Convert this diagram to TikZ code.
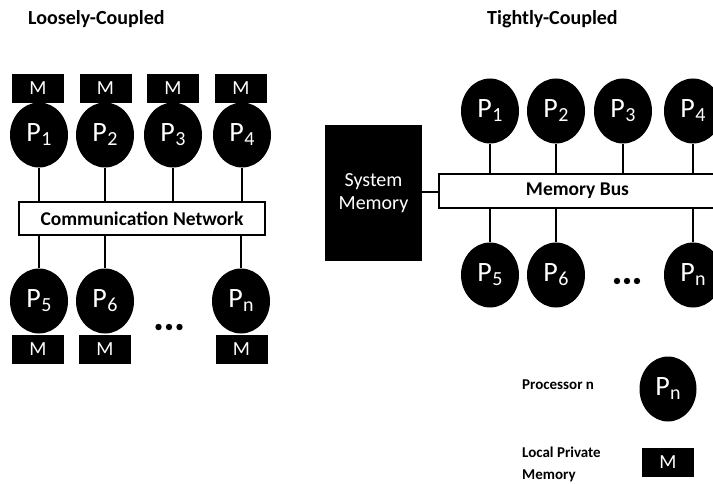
\documentclass[tikz,border=0pt]{standalone}
\usepackage{fontspec}
\setmainfont{Carlito}
\usetikzlibrary{shapes.geometric}
\newcommand{\plab}[1]{\fontsize{28}{28}\selectfont P\kern0.5pt\raisebox{-4pt}{\fontsize{20}{20}\selectfont #1}}
\begin{document}
\begin{tikzpicture}[x=1pt,y=-1pt,
  proc/.style={ellipse, fill=black, text=white, minimum width=58pt, minimum height=65pt, inner sep=0pt},
  mem/.style={rectangle, fill=black, text=white, minimum width=52pt, minimum height=29pt, inner sep=0pt, font=\fontsize{20}{20}\selectfont},
  bus/.style={rectangle, draw=black, line width=1.6pt, fill=white, font=\bfseries\fontsize{19.5}{19.5}\selectfont, inner sep=0pt},
  wire/.style={draw=black, line width=1.2pt},
  title/.style={font=\bfseries\fontsize{20}{20}\selectfont, anchor=west, inner sep=0pt},
  legend/.style={font=\bfseries\fontsize{15}{22}\selectfont, anchor=west, inner sep=0pt, align=left},
  dot/.style={fill=black}]
\useasboundingbox (0,0) rectangle (713,484);
\clip (0,0) rectangle (713,484);

% ---------- Loosely-Coupled ----------
\node[title] (t1) at (28,19) {Loosely-Coupled};

\node[mem] (m1) at (38,88.5) {M};
\node[mem] (m2) at (105.5,88.5) {M};
\node[mem] (m3) at (173,88.5) {M};
\node[mem] (m4) at (241,88.5) {M};

\node[proc] (p1) at (39,135) {\plab{1}};
\node[proc] (p2) at (105,135) {\plab{2}};
\node[proc] (p3) at (173,135) {\plab{3}};
\node[proc] (p4) at (242,135) {\plab{4}};

\node[bus, minimum width=246pt, minimum height=33pt] (cn) at (142,218.5) {Communication Network};

\node[proc] (p5) at (39,301) {\plab{5}};
\node[proc] (p6) at (105,301) {\plab{6}};
\node[proc] (pn) at (241,301) {\plab{n}};

\node[mem] (m5) at (38,349) {M};
\node[mem] (m6) at (105,349) {M};
\node[mem] (mn) at (241.5,349) {M};

\foreach \p in {p1,p2,p3,p4}
  \draw[wire] (\p.south) -- (\p.south |- cn.north);
\foreach \p in {p5,p6,pn}
  \draw[wire] (\p.north) -- (\p.north |- cn.south);

\foreach \x in {158.5,169,179.5}
  \fill[dot] (\x,327) circle (3.2);

% ---------- Tightly-Coupled ----------
\node[title] (t2) at (487,19) {Tightly-Coupled};

\node[rectangle, fill=black, text=white, minimum width=97pt, minimum height=136pt, inner sep=0pt,
      align=center, font=\fontsize{20}{23}\selectfont] (sm) at (373.5,193) {System\\Memory};

\node[bus, minimum width=277pt, minimum height=34pt] (mb) at (577.5,191) {Memory Bus};

\draw[wire] (sm.east |- 0,192) -- (mb.west |- 0,192);

\node[proc] (q1) at (490,111) {\plab{1}};
\node[proc] (q2) at (556,111) {\plab{2}};
\node[proc] (q3) at (623,111) {\plab{3}};
\node[proc] (q4) at (693,111) {\plab{4}};

\node[proc] (q5) at (490,275) {\plab{5}};
\node[proc] (q6) at (556,275) {\plab{6}};
\node[proc] (qn) at (693,275) {\plab{n}};

\foreach \p in {q1,q2,q3,q4}
  \draw[wire] (\p.south) -- (\p.south |- mb.north);
\foreach \p in {q5,q6,qn}
  \draw[wire] (\p.north) -- (\p.north |- mb.south);

\foreach \x in {617,627,637}
  \fill[dot] (\x,281) circle (3.2);

% ---------- Legend ----------
\node[legend] (lp) at (522,385) {Processor n};
\node[proc, minimum width=57pt] (lpn) at (668,389) {\plab{n}};
\node[legend] (lm) at (522,464) {Local Private\\Memory};
\node[mem] (lmm) at (668,462.5) {M};
\end{tikzpicture}
\end{document}
